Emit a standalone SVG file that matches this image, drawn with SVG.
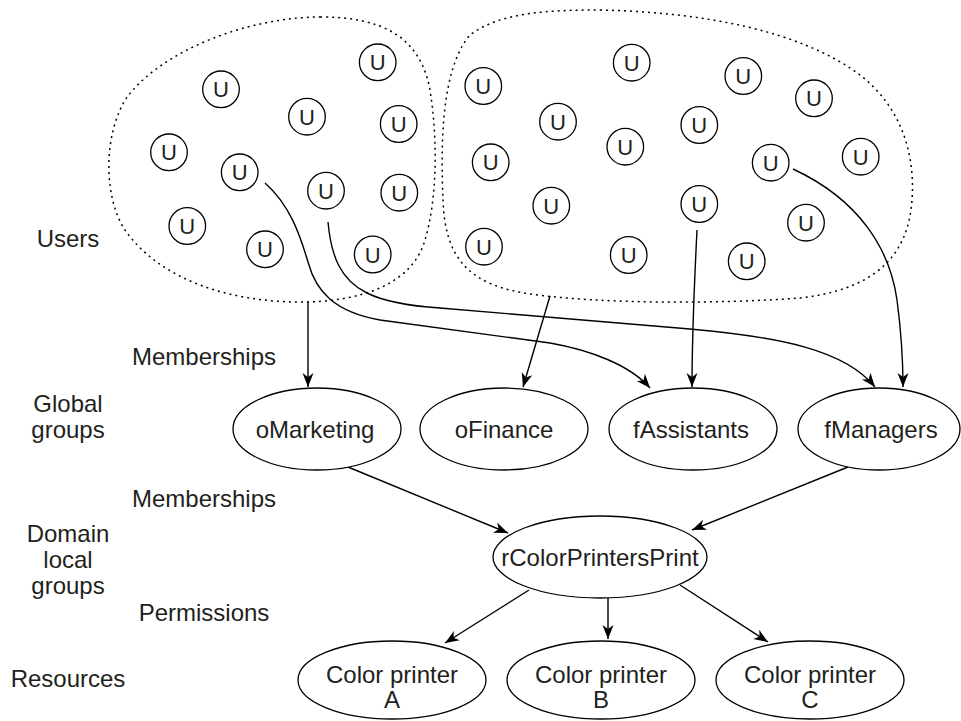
<svg xmlns="http://www.w3.org/2000/svg" width="961" height="721" viewBox="0 0 961 721">
<style>
text{font-family:"Liberation Sans",Arial,sans-serif;fill:#231f20}
.lbl{font-size:24px;text-anchor:middle}
.u circle{fill:none;stroke:#000;stroke-width:1.3}
.u text{font-size:22px;text-anchor:middle}
.cloud{fill:none;stroke:#000;stroke-width:1.5;stroke-dasharray:2 4}
.node ellipse{fill:#fff;stroke:#000;stroke-width:1.3}
.node text{font-size:24px;text-anchor:middle}
.conn path{fill:none;stroke:#000;stroke-width:1.4;marker-end:url(#arr)}
</style>
<defs>
<marker id="arr" markerUnits="userSpaceOnUse" viewBox="-15 -6 16 12" refX="0" refY="0" markerWidth="16" markerHeight="12" orient="auto">
<path d="M0,0 L-14,-5.5 L-10,0 L-14,5.5 Z" fill="#000"/>
</marker>
</defs>
<rect width="961" height="721" fill="#fff"/>

<g id="labels" class="lbl">
<text x="68" y="247">Users</text>
<text x="204" y="365">Memberships</text>
<text x="68" y="412">Global</text>
<text x="68" y="438">groups</text>
<text x="204" y="507">Memberships</text>
<text x="68" y="542">Domain</text>
<text x="68" y="568">local</text>
<text x="68" y="594">groups</text>
<text x="204" y="621">Permissions</text>
<text x="68" y="687">Resources</text>
</g>

<g id="cloud-left">
<path class="cloud" d="M320,17 C380,17 420,35 430,90 C438,140 437,200 425,240 C412,285 360,302 300,302 C230,302 160,280 125,230 C105,200 102,140 125,100 C160,50 250,17 320,17 Z"/>
<g class="u">
<circle cx="377.7" cy="62.3" r="18.3"/><text x="377.7" y="70.3">U</text>
<circle cx="221" cy="89.3" r="18.3"/><text x="221" y="97.3">U</text>
<circle cx="307" cy="116.7" r="18.3"/><text x="307" y="124.7">U</text>
<circle cx="398.7" cy="124" r="18.3"/><text x="398.7" y="132">U</text>
<circle cx="169" cy="152.3" r="18.3"/><text x="169" y="160.3">U</text>
<circle cx="239.7" cy="172.3" r="18.3"/><text x="239.7" y="180.3">U</text>
<circle cx="326" cy="190.7" r="18.3"/><text x="326" y="198.7">U</text>
<circle cx="399.3" cy="192.7" r="18.3"/><text x="399.3" y="200.7">U</text>
<circle cx="187.3" cy="226" r="18.3"/><text x="187.3" y="234">U</text>
<circle cx="265" cy="249.3" r="18.3"/><text x="265" y="257.3">U</text>
<circle cx="372.7" cy="254.5" r="18.3"/><text x="372.7" y="262.5">U</text>
</g>
</g>

<g id="cloud-right">
<path class="cloud" d="M600,10 C700,12 800,30 860,75 C905,110 915,160 912,200 C908,260 870,290 800,298 C720,304 600,304 530,294 C470,285 445,260 443,200 C441,150 440,70 470,35 C500,12 550,10 600,10 Z"/>
<g class="u">
<circle cx="631.7" cy="62.7" r="18.3"/><text x="631.7" y="70.7">U</text>
<circle cx="743.3" cy="76" r="18.3"/><text x="743.3" y="84">U</text>
<circle cx="814" cy="98.3" r="18.3"/><text x="814" y="106.3">U</text>
<circle cx="483.3" cy="86" r="18.3"/><text x="483.3" y="94">U</text>
<circle cx="558" cy="121.7" r="18.3"/><text x="558" y="129.7">U</text>
<circle cx="625.3" cy="146.7" r="18.3"/><text x="625.3" y="154.7">U</text>
<circle cx="699.3" cy="125" r="18.3"/><text x="699.3" y="133">U</text>
<circle cx="490.7" cy="162.3" r="18.3"/><text x="490.7" y="170.3">U</text>
<circle cx="770.7" cy="162.7" r="18.3"/><text x="770.7" y="170.7">U</text>
<circle cx="860.7" cy="156.7" r="18.3"/><text x="860.7" y="164.7">U</text>
<circle cx="551.3" cy="205.7" r="18.3"/><text x="551.3" y="213.7">U</text>
<circle cx="699.3" cy="204" r="18.3"/><text x="699.3" y="212">U</text>
<circle cx="806" cy="222.7" r="18.3"/><text x="806" y="230.7">U</text>
<circle cx="484" cy="246.7" r="18.3"/><text x="484" y="254.7">U</text>
<circle cx="628.7" cy="255" r="18.3"/><text x="628.7" y="263">U</text>
<circle cx="746.7" cy="261.3" r="18.3"/><text x="746.7" y="269.3">U</text>
</g>
</g>

<g id="connectors" class="conn">
<path d="M308,302 L308,387"/>
<path d="M550,296 L523,387"/>
<path d="M697,230 C694,290 692,340 692,387"/>
<path d="M265,183 C290,205 300,235 308,262 C316,292 335,312 380,320 L550,343 C590,350 630,365 650,388"/>
<path d="M328,222 C331,255 340,280 367,293 C385,302 410,306 440,308 L690,329 C780,337 845,350 875,387"/>
<path d="M793,169 C860,200 890,250 897,300 C901,330 903,360 903,387"/>
<path d="M348,467 L508,533"/>
<path d="M848,467 L692,530"/>
<path d="M529,590 L445,643"/>
<path d="M608,598 L608,639"/>
<path d="M680,585 L768,642"/>
</g>

<g id="oMarketing" class="node"><ellipse cx="317" cy="429" rx="84" ry="41"/><text x="315" y="438">oMarketing</text></g>
<g id="oFinance" class="node"><ellipse cx="504" cy="429" rx="84" ry="41"/><text x="504" y="438">oFinance</text></g>
<g id="fAssistants" class="node"><ellipse cx="693" cy="429" rx="84" ry="41"/><text x="691" y="438">fAssistants</text></g>
<g id="fManagers" class="node"><ellipse cx="879" cy="429" rx="81" ry="41"/><text x="881" y="438">fManagers</text></g>
<g id="rColorPrintersPrint" class="node"><ellipse cx="600" cy="557" rx="107" ry="41"/><text x="600" y="566">rColorPrintersPrint</text></g>
<g id="printerA" class="node"><ellipse cx="392" cy="680" rx="94" ry="39"/><text x="392" y="683">Color printer</text><text x="392" y="708">A</text></g>
<g id="printerB" class="node"><ellipse cx="601" cy="680" rx="94" ry="39"/><text x="601" y="683">Color printer</text><text x="601" y="708">B</text></g>
<g id="printerC" class="node"><ellipse cx="810" cy="680" rx="94" ry="39"/><text x="810" y="683">Color printer</text><text x="810" y="708">C</text></g>
</svg>
